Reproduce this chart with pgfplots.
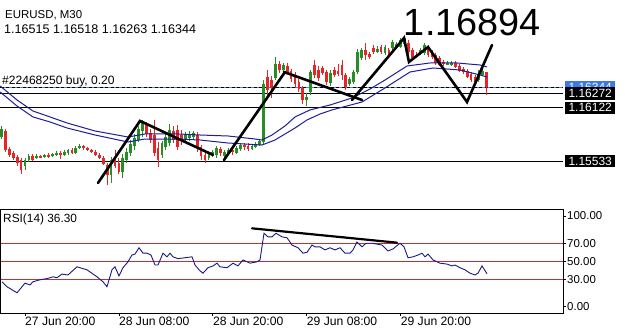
\documentclass[border=0pt]{standalone}
\usepackage{fontspec}
\setmainfont{Liberation Sans}
\usepackage{pgfplots}
\pgfplotsset{compat=1.18}
\usepackage{pgfplotstable}
\definecolor{cgreen}{RGB}{40,140,40}
\definecolor{cred}{RGB}{228,38,38}
\definecolor{ma}{RGB}{30,30,150}
\definecolor{rsiline}{RGB}{25,25,130}
\definecolor{lvl}{RGB}{190,50,50}
\definecolor{bidblue}{RGB}{90,130,215}
\definecolor{boxblue}{RGB}{60,120,230}
\newcommand{\fsz}[1]{\fontsize{#1}{#1}\selectfont}

% bullish candles: bar index, open, high, low, close
\pgfplotstableread{
i o h l c
-6 1.15799 1.15920 1.15777 1.15887
0 1.15481 1.15569 1.15437 1.15547
1 1.15547 1.15613 1.15525 1.15591
3 1.15569 1.15613 1.15558 1.15591
5 1.15580 1.15613 1.15569 1.15602
7 1.15591 1.15624 1.15580 1.15613
8 1.15602 1.15646 1.15591 1.15624
10 1.15602 1.15656 1.15591 1.15635
11 1.15624 1.15667 1.15602 1.15656
13 1.15624 1.15700 1.15613 1.15678
14 1.15678 1.15722 1.15667 1.15700
22 1.15382 1.15580 1.15295 1.15547
25 1.15415 1.15613 1.15349 1.15569
26 1.15547 1.15678 1.15514 1.15635
27 1.15624 1.15766 1.15591 1.15722
28 1.15700 1.15832 1.15656 1.15788
29 1.15766 1.15920 1.15744 1.15887
30 1.15865 1.15986 1.15799 1.15953
35 1.15602 1.15755 1.15569 1.15733
36 1.15689 1.15843 1.15656 1.15799
37 1.15733 1.15942 1.15700 1.15876
41 1.15766 1.15854 1.15744 1.15821
42 1.15788 1.15865 1.15755 1.15832
43 1.15799 1.15865 1.15777 1.15843
47 1.15569 1.15646 1.15547 1.15624
48 1.15602 1.15656 1.15580 1.15635
49 1.15602 1.15700 1.15569 1.15678
51 1.15591 1.15656 1.15569 1.15635
52 1.15624 1.15678 1.15602 1.15656
54 1.15624 1.15700 1.15613 1.15678
55 1.15667 1.15733 1.15646 1.15711
58 1.15667 1.15722 1.15656 1.15700
59 1.15689 1.15744 1.15678 1.15722
60 1.15711 1.15777 1.15700 1.15755
61 1.15744 1.16424 1.15711 1.16381
64 1.16446 1.16676 1.16424 1.16600
66 1.16534 1.16611 1.16512 1.16589
72 1.16205 1.16282 1.16139 1.16238
73 1.16293 1.16534 1.16260 1.16512
78 1.16392 1.16534 1.16359 1.16501
83 1.16381 1.16457 1.16359 1.16435
84 1.16403 1.16534 1.16381 1.16512
85 1.16512 1.16764 1.16490 1.16731
86 1.16665 1.16775 1.16644 1.16753
90 1.16731 1.16797 1.16720 1.16764
92 1.16720 1.16808 1.16698 1.16786
94 1.16775 1.16863 1.16753 1.16841
95 1.16786 1.16841 1.16764 1.16819
96 1.16786 1.16885 1.16775 1.16863
97 1.16819 1.16907 1.16797 1.16885
101 1.16720 1.16775 1.16698 1.16753
102 1.16720 1.16830 1.16698 1.16808
108 1.16600 1.16633 1.16589 1.16611
109 1.16589 1.16633 1.16578 1.16611
116 1.16424 1.16534 1.16403 1.16512
117 1.16479 1.16545 1.16468 1.16523
}\upcandles

% bearish candles
\pgfplotstableread{
i o h l c
-5 1.15865 1.15887 1.15635 1.15656
-4 1.15667 1.15689 1.15580 1.15602
-3 1.15624 1.15646 1.15547 1.15569
-2 1.15580 1.15602 1.15481 1.15514
-1 1.15547 1.15569 1.15393 1.15437
2 1.15591 1.15613 1.15536 1.15547
4 1.15591 1.15602 1.15569 1.15580
6 1.15602 1.15624 1.15569 1.15591
9 1.15624 1.15646 1.15558 1.15602
12 1.15656 1.15678 1.15613 1.15624
15 1.15700 1.15711 1.15656 1.15678
16 1.15678 1.15689 1.15646 1.15656
17 1.15656 1.15667 1.15624 1.15635
18 1.15635 1.15656 1.15591 1.15602
19 1.15602 1.15624 1.15558 1.15569
20 1.15569 1.15591 1.15492 1.15503
21 1.15492 1.15514 1.15273 1.15382
23 1.15580 1.15657 1.15459 1.15481
24 1.15514 1.15569 1.15393 1.15415
31 1.15942 1.15964 1.15799 1.15832
32 1.15843 1.15887 1.15733 1.15766
33 1.15821 1.15986 1.15591 1.15624
34 1.15678 1.15744 1.15470 1.15547
38 1.15865 1.15920 1.15733 1.15766
39 1.15876 1.15931 1.15656 1.15689
40 1.15821 1.15876 1.15711 1.15755
44 1.15821 1.15854 1.15635 1.15678
45 1.15689 1.15711 1.15547 1.15591
46 1.15602 1.15635 1.15514 1.15547
50 1.15667 1.15689 1.15591 1.15624
53 1.15656 1.15678 1.15602 1.15635
56 1.15711 1.15733 1.15656 1.15689
57 1.15700 1.15733 1.15646 1.15667
62 1.16457 1.16534 1.16238 1.16315
63 1.16424 1.16468 1.16227 1.16337
65 1.16600 1.16633 1.16501 1.16534
67 1.16578 1.16611 1.16490 1.16512
68 1.16523 1.16545 1.16403 1.16435
69 1.16468 1.16512 1.16337 1.16381
70 1.16403 1.16435 1.16293 1.16326
71 1.16337 1.16359 1.16161 1.16205
74 1.16589 1.16644 1.16446 1.16479
75 1.16534 1.16578 1.16413 1.16446
76 1.16556 1.16578 1.16479 1.16501
77 1.16512 1.16534 1.16370 1.16403
79 1.16534 1.16567 1.16457 1.16479
80 1.16523 1.16600 1.16468 1.16490
81 1.16589 1.16644 1.16424 1.16479
82 1.16479 1.16501 1.16315 1.16348
87 1.16753 1.16830 1.16644 1.16698
88 1.16709 1.16731 1.16655 1.16676
89 1.16775 1.16808 1.16709 1.16731
91 1.16786 1.16808 1.16709 1.16731
93 1.16753 1.16775 1.16676 1.16698
98 1.16830 1.16863 1.16709 1.16731
99 1.16753 1.16775 1.16644 1.16665
100 1.16698 1.16731 1.16665 1.16687
103 1.16786 1.16808 1.16676 1.16698
104 1.16731 1.16753 1.16655 1.16676
105 1.16698 1.16720 1.16589 1.16611
106 1.16665 1.16687 1.16578 1.16589
107 1.16622 1.16644 1.16578 1.16600
110 1.16611 1.16633 1.16556 1.16567
111 1.16578 1.16600 1.16512 1.16523
112 1.16545 1.16567 1.16490 1.16512
113 1.16523 1.16545 1.16446 1.16457
114 1.16490 1.16512 1.16403 1.16424
115 1.16457 1.16479 1.16381 1.16403
118 1.16515 1.16518 1.16263 1.16344
}\downcandles

% moving averages
\pgfplotstableread{
i v
-6.35 1.16359
-2.04 1.16205
2.04 1.16084
6.39 1.16019
10.73 1.15953
17.89 1.15865
26.32 1.15799
30.67 1.15832
39.10 1.15832
44.72 1.15821
51.88 1.15810
58.78 1.15777
60.57 1.15766
63.12 1.15821
66.45 1.15920
69.01 1.16019
72.83 1.16096
77.94 1.16150
83.57 1.16227
88.17 1.16326
92.00 1.16424
97.62 1.16578
103.50 1.16611
110.40 1.16611
116.28 1.16589
118.07 1.16567
}\maupper
\pgfplotstableread{
i v
-6.35 1.16293
-2.04 1.16139
2.04 1.16019
6.39 1.15964
10.73 1.15898
17.89 1.15821
26.32 1.15744
30.67 1.15777
39.10 1.15777
44.72 1.15766
51.88 1.15733
60.57 1.15711
63.89 1.15766
69.01 1.15898
72.07 1.15986
75.39 1.16051
78.46 1.16096
86.12 1.16183
92.00 1.16337
98.39 1.16512
104.27 1.16556
111.17 1.16534
116.28 1.16479
118.07 1.16457
}\malower

% RSI(14)
\pgfplotstableread{
i v
-5.88 27.5
-4.60 22
-2.04 15.4
0 26
1.28 24
2.04 27.5
3.83 29.7
5.62 31
7.16 33
8.18 32
9.46 36
10.99 35
13.29 44
15.84 40.7
18.40 33
19.93 27.5
20.95 22
22.23 40.7
23.00 44
24.02 34
25.04 43
26.32 49.5
27.34 57
28.11 58
29.13 65
30.16 59
31.18 59
32.20 57
33.22 46
33.99 46
35.27 59
36.29 55
37.06 59
37.82 55
39.10 53
40.89 54
42.68 55
43.44 46
44.72 39.6
45.49 37
46.77 43
48.04 45
49.07 48
49.83 44
51.62 43
53.16 48
54.43 45
55.71 51.6
57.50 48
59.29 49.5
60.06 51.6
61.08 81
62.10 77
63.12 77
64.15 81
65.68 77
66.96 76
68.23 68
69.77 65
71.05 59
72.07 60
73.35 68
74.11 66
75.39 66
76.67 62.6
77.94 65
79.22 62.6
80.50 65
81.78 59
83.06 59
83.82 62.6
84.85 71.4
86.12 66
87.15 70
88.68 70
89.96 69
91.23 68
92.77 61.5
94.05 63.7
95.83 70
96.86 66
97.88 54
99.16 55
100.43 57
101.46 59
102.22 55
103.00 58
104.27 51.6
106.06 48
107.85 47
109.12 45
109.89 46
111.17 43
112.45 40.7
113.72 37
115.00 35
115.77 37
116.79 45
118.07 36.3
}\rsi

\pgfplotsset{
  wick/.style={draw=none, mark=none, forget plot,
    error bars/.cd, y dir=both, y explicit, error mark=none,
    error bar style={line width=0.9bp, draw=#1, solid}},
  body/.style={draw=none, mark=none, forget plot,
    error bars/.cd, y dir=both, y explicit, error mark=none,
    error bar style={line width=2.8bp, draw=#1, solid}},
}

\begin{document}
\begin{tikzpicture}
\fill[white] (0,0) rectangle (625bp,-331bp);

% ---------------- price panel ----------------
\begin{axis}[
  set layers,
  at={(0.5bp,-1bp)}, anchor=north west,
  scale only axis, width=562.5bp, height=207bp,
  xmin=-6.26, xmax=137.49, ymin=1.15020, ymax=1.17291,
  axis line style={line width=1bp, black},
  xtick=\empty,
  ytick={1.1535,1.1569,1.1603,1.1637,1.1671,1.1705},
  yticklabels={1.15350,1.15690,1.16030,{},1.16710,1.17050},
  ytick pos=right, yticklabel pos=right,
  tick align=outside, major tick length=3bp,
  tick style={black, line width=0.8bp},
  yticklabel style={anchor=west, inner sep=0pt, xshift=1bp, font=\fsz{11.5}},
  clip=false,
]
% horizontal levels
\addplot[black, line width=1.2bp] coordinates {(-6.26,1.16272) (137.49,1.16272)};
\addplot[black, line width=1.2bp] coordinates {(-6.26,1.16122) (137.49,1.16122)};
\addplot[black, line width=1.2bp] coordinates {(-6.26,1.15533) (137.49,1.15533)};
\addplot[bidblue, line width=1bp] coordinates {(-6.26,1.16344) (137.49,1.16344)};
\addplot[black, line width=0.9bp, dash pattern=on 3bp off 2.5bp] coordinates {(-6.26,1.16338) (137.49,1.16338)};

% candles
\addplot[wick=cgreen] table[x=i, y expr={(\thisrow{h}+\thisrow{l})/2}, y error expr={(\thisrow{h}-\thisrow{l})/2}] {\upcandles};
\addplot[body=cgreen] table[x=i, y expr={(\thisrow{o}+\thisrow{c})/2}, y error expr={(\thisrow{c}-\thisrow{o})/2}] {\upcandles};
\addplot[wick=cred] table[x=i, y expr={(\thisrow{h}+\thisrow{l})/2}, y error expr={(\thisrow{h}-\thisrow{l})/2}] {\downcandles};
\addplot[body=cred] table[x=i, y expr={(\thisrow{o}+\thisrow{c})/2}, y error expr={(\thisrow{o}-\thisrow{c})/2}] {\downcandles};

% moving averages
\addplot[ma, line width=1bp] table[x=i, y=v] {\maupper};
\addplot[ma, line width=1bp] table[x=i, y=v] {\malower};

% hand-drawn trend lines
\addplot[black, line width=2.6bp, line cap=round] coordinates {(18.66,1.15295) (29.39,1.15975) (48.04,1.15602)};
\addplot[black, line width=2.6bp, line cap=round] coordinates {(50.86,1.15547) (66.45,1.16512)};
\addplot[black, line width=2.6bp, line cap=round] coordinates {(66.2,1.16512) (86.12,1.16205)};
\addplot[black, line width=2.6bp, line cap=round] coordinates {(83.57,1.16205) (96.86,1.16885) (98.13,1.16622) (102.99,1.16786) (112.96,1.16183) (119.35,1.16808)};

% price boxes on the right scale
\node[fill=boxblue, text=white, anchor=west, inner sep=0pt, minimum width=50bp, minimum height=13bp, font=\fsz{12}, xshift=2bp] at (axis cs:137.49,1.16344) {1.16344};
\node[fill=black, text=white, anchor=west, inner sep=0pt, minimum width=50bp, minimum height=13bp, font=\fsz{12}, xshift=2bp] at (axis cs:137.49,1.16272) {1.16272};
\node[fill=black, text=white, anchor=west, inner sep=0pt, minimum width=50bp, minimum height=12bp, font=\fsz{12}, xshift=2bp] at (axis cs:137.49,1.16122) {1.16122};
\node[fill=black, text=white, anchor=west, inner sep=0pt, minimum width=50bp, minimum height=12bp, font=\fsz{12}, xshift=2bp] at (axis cs:137.49,1.15533) {1.15533};
\end{axis}

% ---------------- RSI panel ----------------
\begin{axis}[
  at={(0.5bp,-209bp)}, anchor=north west,
  scale only axis, width=562.5bp, height=104bp,
  xmin=-6.26, xmax=137.49, ymin=-6.9, ymax=107.7,
  axis line style={line width=1bp, black},
  xtick={0,24,48,72,96},
  xticklabels={27 Jun 20:00,28 Jun 08:00,28 Jun 20:00,29 Jun 08:00,29 Jun 20:00},
  xtick pos=bottom,
  ytick={0,30,50,70,100},
  yticklabels={0.00,30.00,50.00,70.00,100.00},
  ytick pos=right, yticklabel pos=right,
  tick align=outside, major tick length=3bp,
  tick style={black, line width=0.8bp},
  yticklabel style={anchor=west, inner sep=0pt, xshift=1bp, font=\fsz{11.5}},
  xticklabel style={anchor=north west, inner sep=0pt, xshift=0bp, yshift=-1bp, font=\fsz{12.2}},
  clip=false,
]
\addplot[lvl, line width=1bp] coordinates {(-6.26,70) (137.49,70)};
\addplot[lvl, line width=1bp] coordinates {(-6.26,50) (137.49,50)};
\addplot[lvl, line width=1bp] coordinates {(-6.26,30) (137.49,30)};
\addplot[rsiline, line width=0.9bp] table[x=i, y=v] {\rsi};
\addplot[black, line width=2.2bp, line cap=round] coordinates {(58.01,86.4) (95.07,70.6)};
\end{axis}

% ---------------- texts ----------------
\node[anchor=base west, inner sep=0pt, font=\fsz{11.5}] at (5bp,-18bp) {EURUSD, M30};
\node[anchor=base west, inner sep=0pt, font=\fsz{12.6}] at (4bp,-33.5bp) {1.16515 1.16518 1.16263 1.16344};
\node[anchor=base west, inner sep=0pt, font=\fsz{12.1}] at (2bp,-84.5bp) {\#22468250 buy, 0.20};
\node[anchor=base east, inner sep=0pt, font=\fsz{38}] at (541bp,-35bp) {1.16894};
\node[anchor=base west, inner sep=0pt, font=\fsz{11.9}] at (3bp,-222.5bp) {RSI(14) 36.30};

\pgfresetboundingbox
\useasboundingbox (0,0) rectangle (625bp,-331bp);
\end{tikzpicture}
\end{document}
